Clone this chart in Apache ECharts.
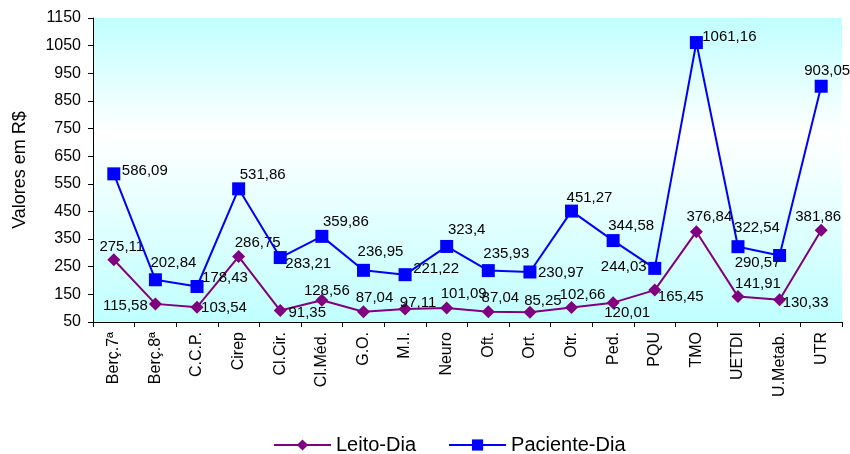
<!DOCTYPE html>
<html>
<head>
<meta charset="utf-8">
<script src="https://cdn.jsdelivr.net/npm/echarts@6/dist/echarts.min.js"></script>
<style>
html,body{margin:0;padding:0;background:#fff;}
#c{width:850px;height:454px;}
</style>
</head>
<body>
<div id="c"></div>
<script>
var categories = ["Berç.7ª","Berç.8ª","C.C.P.","Cirep","Cl.Cir.","Cl.Méd.","G.O.","M.I.","Neuro","Oft.","Ort.","Otr.","Ped.","PQU","TMO","UETDI","U.Metab.","UTR"];
var leitoDia = [275.11,115.58,103.54,286.75,91.35,128.56,87.04,97.11,101.09,87.04,85.25,102.66,120.01,165.45,376.84,141.91,130.33,381.86];
var pacienteDia = [586.09,202.84,178.43,531.86,283.21,359.86,236.95,221.22,323.4,235.93,230.97,451.27,344.58,244.03,1061.16,322.54,290.57,903.05];
var yTicks = [50,150,250,350,450,550,650,750,850,950,1050,1150];

// label placement (pixel offsets from marker centre) - layout only
var leitoLabelOffsets = [[8,-13],[-30,2],[27,1],[19,-14],[27,2],[5,-9],[11,-14],[13,-6],[17,-14],[12,-14],[13,-11],[11,-13],[14,10],[26,7],[13,-15],[20,-13],[26,3],[-3,-13]];
var pacienteLabelOffsets = [[31,-3],[18,-17],[28,-9],[24,-14],[28,6],[24,-15],[17,-18],[31,-6],[20,-17],[18,-17],[31,1],[18,-13],[18,-15],[-31,-2],[33,-6],[19,-19],[-22,7],[6,-15]];

var FONT = "'Liberation Sans', Arial, sans-serif";
function fmt(v){ return String(v).replace('.', ','); }
function build(values, offsets){
  return values.map(function(v,i){
    return {value:v, label:{offset:offsets[i]}};
  });
}

var chart = echarts.init(document.getElementById('c'), null, {renderer:'canvas'});
chart.setOption({
  animation:false,
  backgroundColor:'#ffffff',
  textStyle:{fontFamily:FONT},
  grid:{
    left:93, right:8, top:18, bottom:132,
    show:true, borderWidth:0,
    backgroundColor:new echarts.graphic.LinearGradient(0,0,0,1,[
      {offset:0,color:'#c0ffff'},
      {offset:0.38,color:'#ffffff'},
      {offset:1,color:'#c0ffff'}
    ])
  },
  legend:{
    left:268, top:430,
    itemWidth:57, itemHeight:14, itemGap:32,
    textStyle:{fontFamily:FONT, fontSize:20, color:'#000'},
    data:['Leito-Dia','Paciente-Dia']
  },
  xAxis:{
    type:'category',
    data:categories,
    boundaryGap:true,
    axisLine:{lineStyle:{color:'#000',width:1}},
    axisTick:{show:true, length:5, lineStyle:{color:'#000'}},
    axisLabel:{rotate:90, interval:0, margin:10, fontFamily:FONT, fontSize:16, color:'#000'}
  },
  yAxis:{
    type:'value',
    min:50, max:1150,
    name:'Valores em R$',
    nameLocation:'middle',
    nameRotate:90,
    nameGap:64,
    nameTextStyle:{fontFamily:FONT, fontSize:18, color:'#000'},
    axisLine:{show:true, lineStyle:{color:'#000',width:1}},
    axisTick:{show:true, length:5, lineStyle:{color:'#000'}, customValues:yTicks},
    axisLabel:{margin:12, fontFamily:FONT, fontSize:16, color:'#000', customValues:yTicks,
      formatter:function(v){return String(v);}},
    splitLine:{show:false}
  },
  series:[
    {
      name:'Leito-Dia',
      type:'line',
      data:build(leitoDia, leitoLabelOffsets),
      symbol:'diamond',
      symbolSize:13,
      color:'#800080',
      lineStyle:{color:'#800080',width:2},
      itemStyle:{color:'#800080'},
      label:{show:true, position:'inside', align:'center', verticalAlign:'middle',
        color:'#000', fontFamily:FONT, fontSize:15,
        formatter:function(p){return fmt(p.value);}},
      z:2
    },
    {
      name:'Paciente-Dia',
      type:'line',
      data:build(pacienteDia, pacienteLabelOffsets),
      symbol:'rect',
      symbolSize:13,
      color:'#0000ff',
      lineStyle:{color:'#0000ff',width:2},
      itemStyle:{color:'#0000ff'},
      label:{show:true, position:'inside', align:'center', verticalAlign:'middle',
        color:'#000', fontFamily:FONT, fontSize:15,
        formatter:function(p){return fmt(p.value);}},
      z:3
    }
  ]
});
</script>
</body>
</html>
